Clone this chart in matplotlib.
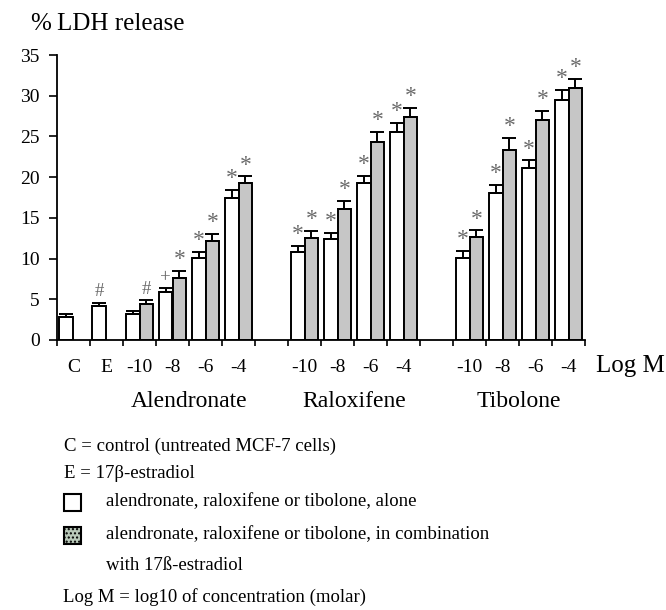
import numpy as np
import matplotlib.pyplot as plt
from matplotlib.patches import Rectangle

plt.rcParams['font.family'] = ['Liberation Serif', 'DejaVu Serif']

# slot positions (C, E, then 3 drugs x 4 concentrations with gaps)
tick_labels = ['C', 'E', '-10', '-8', '-6', '-4', '', '-10', '-8', '-6', '-4', '', '-10', '-8', '-6', '-4']
groups = ['Alendronate', 'Raloxifene', 'Tibolone']

# control and estradiol
ctrl_vals = [2.85, 4.2]
ctrl_err = [0.4, 0.4]
ctrl_marks = ['', '#']

# drug alone (white) and drug + estradiol (grey), per group, conc -10,-8,-6,-4
alone_vals = [[3.15, 5.9, 10.1, 17.4],
              [10.8, 12.4, 19.25, 25.55],
              [10.1, 18.1, 21.1, 29.5]]
alone_err = [[0.45, 0.45, 0.7, 1.0],
             [0.8, 0.75, 0.95, 1.1],
             [0.8, 0.9, 0.95, 1.25]]
alone_marks = [['', '+', '*', '*'],
               ['*', '*', '*', '*'],
               ['*', '*', '*', '*']]
combo_vals = [[4.4, 7.6, 12.2, 19.25],
              [12.5, 16.1, 24.3, 27.4],
              [12.6, 23.3, 27.0, 31.0]]
combo_err = [[0.5, 0.85, 0.85, 0.85],
             [0.9, 1.0, 1.3, 1.1],
             [0.85, 1.55, 1.1, 1.1]]
combo_marks = [['#', '*', '*', '*'],
               ['*', '*', '*', '*'],
               ['*', '*', '*', '*']]
group_start = [2, 7, 12]

fig = plt.figure(figsize=(6.66, 6.10), dpi=100)
ax = fig.add_axes([57/666, 1-340/610, 528/666, 285/610])

w = 0.42
grey = '#c6c6c6'
mark_col = '#6a6a6a'

def draw(x, v, e, m, fc):
    ax.bar(x, v, width=w, align='edge', color=fc, edgecolor='black', linewidth=1.4, zorder=2)
    ax.errorbar(x + w/2, v, yerr=[[0], [e]], fmt='none', ecolor='black', elinewidth=1.4, capsize=5, capthick=1.4, zorder=3)
    if m == '*':
        ax.text(x + w/2, v + e + 0.1, m, ha='center', va='bottom', fontsize=17, color=mark_col, zorder=4)
    elif m:
        ax.text(x + w/2, v + e + 0.3, m, ha='center', va='bottom', fontsize=13.5, color=mark_col, zorder=4)

for i in range(2):
    draw(i + 0.07, ctrl_vals[i], ctrl_err[i], ctrl_marks[i], 'white')

for g in range(3):
    for j in range(4):
        s = group_start[g] + j
        draw(s + 0.08, alone_vals[g][j], alone_err[g][j], alone_marks[g][j], 'white')
        draw(s + 0.5, combo_vals[g][j], combo_err[g][j], combo_marks[g][j], grey)

ax.set_xlim(0, 16)
ax.set_ylim(0, 35)
ax.set_yticks(np.arange(0, 36, 5))
ax.set_xticks(np.arange(0, 17))
ax.set_xticklabels([])
ax.set_xticks(np.arange(16) + 0.5, minor=True)
ax.set_xticklabels(tick_labels, minor=True, fontsize=14)
ax.tick_params(axis='x', which='minor', length=0, pad=14)
ax.tick_params(axis='x', which='major', length=4, width=1.2, direction='out')
ax.tick_params(axis='y', length=5.5, width=1.2, direction='out', labelsize=14, pad=7)
for sp in ['top', 'right']:
    ax.spines[sp].set_visible(False)
for sp in ['left', 'bottom']:
    ax.spines[sp].set_linewidth(1.3)

group_x = [4, 9, 14]
for gx, name in zip(group_x, groups):
    ax.text(gx, -7.5, name, fontsize=17, ha='center', va='center')

fig.text(665/666, 1-366/610, 'Log M', fontsize=18, va='center', ha='right')
fig.text(30/666, 1-24/610, '%', fontsize=18, va='center', ha='left')
fig.text(57/666, 1-24/610, 'LDH release', fontsize=18, va='center', ha='left')

fig.text(64/666, 1-446/610, 'C = control (untreated MCF-7 cells)', fontsize=13.5, va='center')
fig.text(64/666, 1-474/610, 'E = 17\u03b2-estradiol', fontsize=13.5, va='center')
fig.text(106/666, 1-502/610, 'alendronate, raloxifene or tibolone, alone', fontsize=13.5, va='center')
fig.text(106/666, 1-535/610, 'alendronate, raloxifene or tibolone, in combination', fontsize=13.5, va='center')
fig.text(106/666, 1-565/610, 'with 17\u00df-estradiol', fontsize=13.5, va='center')
fig.text(63/666, 1-597/610, 'Log M = log10 of concentration (molar)', fontsize=13.5, va='center')

fig.patches.append(Rectangle((64/666, 1-511/610), 17/666, 17/610, transform=fig.transFigure,
                             facecolor='white', edgecolor='black', linewidth=1.5))
fig.patches.append(Rectangle((64/666, 1-544/610), 17/666, 17/610, transform=fig.transFigure,
                             facecolor='#b9c9b9', edgecolor='black', linewidth=1.5, hatch='....'))

fig.savefig('out.png', dpi=100)
